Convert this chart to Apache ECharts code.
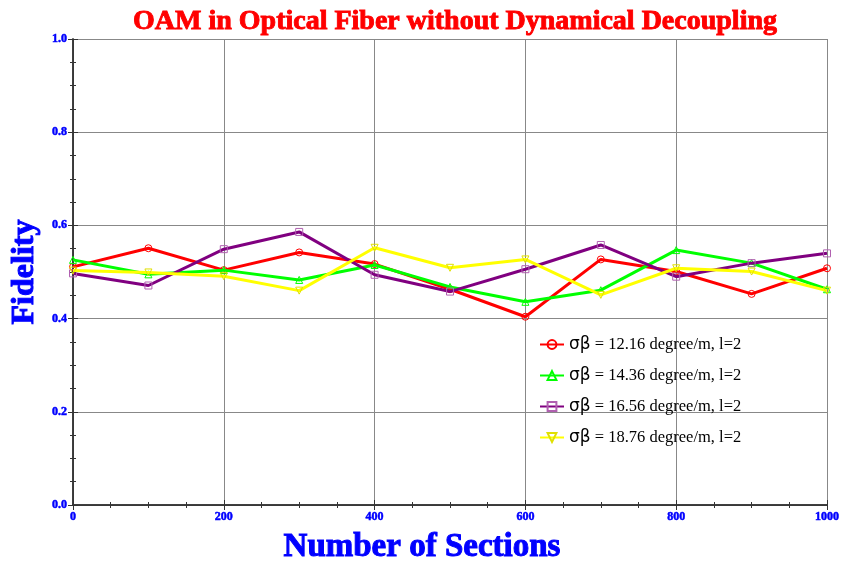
<!DOCTYPE html>
<html><head><meta charset="utf-8">
<script src="https://cdn.jsdelivr.net/npm/echarts@6/dist/echarts.min.js"></script>
<style>html,body{margin:0;padding:0;background:#fff}#c{width:844px;height:561px}</style>
</head><body><div id="c"></div>
<script>
const sections = [0,100,200,300,400,500,600,700,800,900,1000];
const red    = [0.511,0.551,0.504,0.542,0.517,0.463,0.404,0.527,0.501,0.453,0.508];
const green  = [0.526,0.495,0.504,0.483,0.515,0.468,0.436,0.461,0.547,0.519,0.463];
const purple = [0.497,0.471,0.549,0.586,0.494,0.458,0.506,0.558,0.490,0.519,0.540];
const yellow = [0.503,0.499,0.491,0.460,0.552,0.509,0.527,0.451,0.508,0.501,0.460];
const names = ['12.16','14.36','16.56','18.76'];
const xTicks = [0,200,400,600,800,1000];
const yTicks = [0,0.2,0.4,0.6,0.8,1.0];

const colors = ['#ff0000','#00ff00','#800080','#ffff00'];
const symbols = ['circle','triangle','rect','path://M0,0 L10,0 L5,9 Z'];
const datas = [red, green, purple, yellow];
const serif = "'Liberation Serif', serif";
const labelName = v => 'σβ = ' + v + ' degree/m, l=2';
// fake-bold via a same-coloured text stroke
const bold = (color, w) => ({fontWeight:'bold', textBorderColor:color, textBorderWidth:w});

const chart = echarts.init(document.getElementById('c'));
const series = datas.map((d,i)=>({
  name: labelName(names[i]),
  type:'line',
  data: sections.map((x,j)=>[x,d[j]]),
  symbol: symbols[i],
  symbolSize: 7,
  showAllSymbol:true,
  lineStyle:{color:colors[i],width:3},
  itemStyle:{color:'rgba(255,255,255,0)', borderColor: i===3?'#e0e000':(i===2?'#b060b0':colors[i]), borderWidth:1},
  z: 2+i
}));
const axisCommon = {
  axisLine:{show:true,lineStyle:{color:'#333',width:1.5}},
  axisTick:{show:true,inside:true,length:5,lineStyle:{color:'#333'}},
  minorTick:{show:true,splitNumber:4,length:3,lineStyle:{color:'#333'}},
};
const tickLabel = Object.assign({color:'#0000ff',fontFamily:serif,fontSize:12,margin:6}, bold('#0000ff',0.5));
chart.setOption({
  backgroundColor:'#fff',
  animation:false,
  title:{text:'OAM in Optical Fiber without Dynamical Decoupling',left:450,top:3,textAlign:'center',
    textStyle:Object.assign({color:'#ff0000',fontFamily:serif,fontSize:28}, bold('#ff0000',0.9))},
  grid:{left:73,right:17,top:39,bottom:56,outerBoundsMode:'none',containLabel:false},
  legend:{
    orient:'vertical', left:534, top:331, itemGap:14, itemWidth:24, itemHeight:11,
    formatter: n => '{s|σβ}{t|' + n.slice(2) + '}',
    textStyle:{rich:{s:{fontFamily:'DejaVu Sans',fontSize:17,color:'#000'},t:{fontFamily:serif,fontSize:16.5,color:'#000'}}},
    data: series.map(s=>({name:s.name,itemStyle:{color:'rgba(255,255,255,0)'}}))
  },
  xAxis:[
    Object.assign({type:'value',min:0,max:1000,interval:200,
      name:'Number of Sections',nameLocation:'middle',nameGap:26,
      nameTextStyle:Object.assign({color:'#0000ff',fontFamily:serif,fontSize:33,padding:[0,56,0,0]}, bold('#0000ff',1)),
      axisLabel:Object.assign({formatter:v=>String(v)}, tickLabel),
      splitLine:{show:true,lineStyle:{color:'#888',width:1}}},axisCommon),
    Object.assign({type:'value',min:0,max:1000,interval:200,position:'top',axisLabel:{show:false},splitLine:{show:false}},axisCommon)
  ],
  yAxis:[
    Object.assign({type:'value',min:0,max:1,interval:0.2,
      name:'Fidelity',nameLocation:'middle',nameGap:24,
      nameTextStyle:Object.assign({color:'#0000ff',fontFamily:serif,fontSize:32}, bold('#0000ff',1)),
      axisLabel:Object.assign({formatter:v=>v.toFixed(1)}, tickLabel),
      splitLine:{show:true,lineStyle:{color:'#888',width:1}}},axisCommon),
    Object.assign({type:'value',min:0,max:1,interval:0.2,position:'right',axisLabel:{show:false},splitLine:{show:false}},axisCommon)
  ],
  series: series
});
</script></body></html>
